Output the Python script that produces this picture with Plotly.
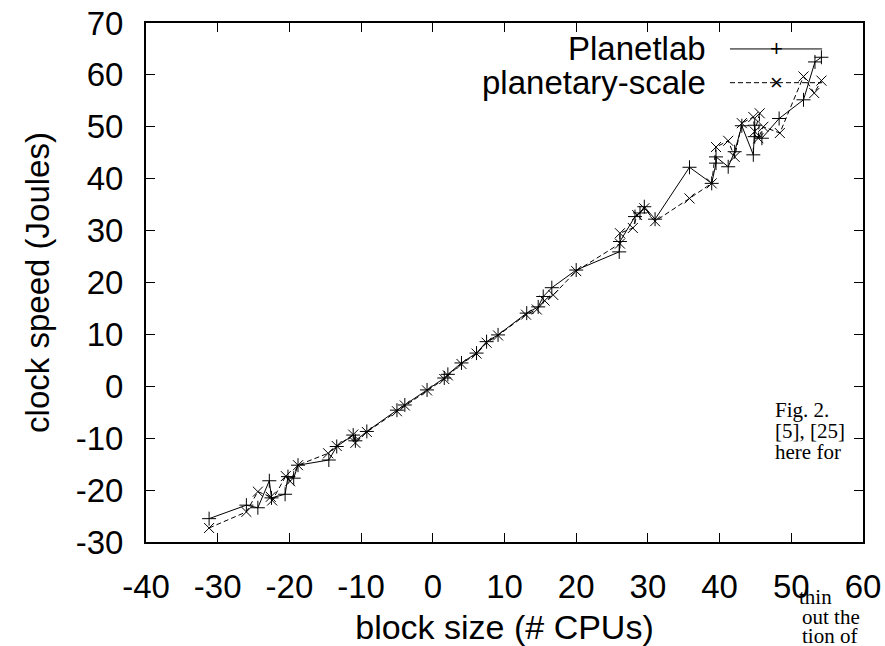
import plotly.graph_objects as go

# block size (# CPUs) vs clock speed (Joules)
planetlab_x = [-31.2, -26.0, -24.4, -22.8, -22.5, -20.6, -20.2, -19.4, -18.8, -14.5, -13.4, -11.1, -10.8, -9.2,
               -5.0, -3.9, -0.8, 1.6, 2.1, 4.0, 6.1, 7.5, 9.1, 13.1, 14.7, 15.4, 16.6, 20.0, 26.0, 26.1,
               28.2, 28.9, 29.5, 31.0, 35.8, 38.9, 39.5, 39.5, 41.2, 42.1, 43.1, 44.7, 44.9, 44.9, 45.9,
               48.3, 51.7, 53.3, 54.2]
planetlab_y = [-25.5, -22.9, -23.4, -18.2, -21.5, -20.8, -17.4, -17.7, -15.2, -14.2, -11.6, -9.4, -10.5, -8.7,
               -4.6, -3.6, -0.7, 1.6, 2.3, 4.5, 6.4, 8.6, 9.9, 14.1, 15.3, 17.3, 19.0, 22.4, 25.9, 27.9,
               32.7, 33.4, 34.6, 32.2, 42.2, 39.1, 43.0, 44.2, 42.3, 45.2, 50.2, 44.6, 50.3, 48.1, 47.8,
               51.6, 55.2, 62.5, 63.4]

planetary_x = [-31.2, -26.0, -24.4, -22.6, -22.4, -20.5, -19.9, -18.8, -14.6, -13.4, -11.1, -10.8, -9.2,
               -5.0, -3.9, -0.8, 1.6, 2.1, 4.0, 6.1, 7.5, 9.1, 13.0, 14.5, 15.6, 16.8, 20.0, 26.1, 26.1,
               27.9, 28.5, 29.5, 31.0, 35.8, 38.9, 39.5, 41.2, 42.1, 43.1, 44.7, 44.9, 45.6, 45.4, 46.1,
               48.4, 51.7, 53.2, 54.2]
planetary_y = [-27.3, -24.2, -20.3, -21.3, -22.0, -17.3, -18.3, -15.2, -12.9, -11.5, -9.3, -10.9, -8.8,
               -4.8, -3.7, -0.8, 1.4, 2.1, 4.3, 6.3, 8.4, 9.8, 13.8, 14.8, 16.5, 17.6, 22.2, 27.5, 29.5,
               30.5, 33.0, 34.3, 31.8, 36.2, 39.1, 46.1, 47.3, 44.2, 50.7, 51.9, 49.1, 52.6, 47.8, 50.0,
               48.8, 59.7, 56.5, 58.9]

x_ticks = [-40, -30, -20, -10, 0, 10, 20, 30, 40, 50, 60]
y_ticks = [-30, -20, -10, 0, 10, 20, 30, 40, 50, 60, 70]

font = "Liberation Sans, Arial, sans-serif"
serif = "Liberation Serif, DejaVu Serif, serif"

fig = go.Figure()
fig.add_trace(go.Scatter(
    x=planetlab_x, y=planetlab_y, mode="lines+markers", name="Planetlab",
    line=dict(color="black", width=1),
    marker=dict(symbol="cross-thin", size=10, line=dict(color="black", width=1)),
))
fig.add_trace(go.Scatter(
    x=planetary_x, y=planetary_y, mode="lines+markers", name="planetary-scale",
    line=dict(color="black", width=1, dash="5px,3px"),
    marker=dict(symbol="x-thin", size=10, line=dict(color="black", width=1)),
))

axis_style = dict(
    showgrid=False, zeroline=False, showline=True, linecolor="black", linewidth=2,
    ticks="inside", ticklen=9, tickwidth=1, tickcolor="black", mirror="allticks",
    tickfont=dict(family=font, size=33, color="black"), ticklabelstandoff=14, automargin=False,
)
# gnuplot prints a plain hyphen for negative numbers
fig.update_xaxes(range=[-40, 60], tickvals=x_ticks, ticktext=[str(v) for v in x_ticks], **axis_style,
                 title=dict(text="block size (# CPUs)", font=dict(family=font, size=34, color="black"), standoff=12))
fig.update_yaxes(range=[-30, 70], tickvals=y_ticks, ticktext=[str(v) for v in y_ticks], **axis_style,
                 title=dict(text="clock speed (Joules)", font=dict(family=font, size=33, color="black"), standoff=16))

# gnuplot-style key: text on the left, sample on the right
key = [("Planetlab", 0.950, "solid", "+"), ("planetary-scale", 0.885, "5px,3px", "×")]
for label, ky, dash, sym in key:
    fig.add_annotation(x=0.784, y=ky, xref="paper", yref="paper", text=label, showarrow=False,
                       xanchor="right", yanchor="middle", font=dict(family=font, size=33, color="black"))
    fig.add_shape(type="line", xref="paper", yref="paper", x0=0.8145, x1=0.943, y0=ky, y1=ky,
                  line=dict(color="black", width=1, dash=dash))
    fig.add_annotation(x=0.879, y=ky, xref="paper", yref="paper", text=sym, showarrow=False,
                       xanchor="center", yanchor="middle", font=dict(family=font, size=22, color="black"))

# bits of the surrounding paper text that overlap the figure
paper_text = [("Fig. 2.", 773, 410), ("[5], [25]", 773, 431), ("here for", 773, 452),
              ("thin", 797, 597), ("out the", 800, 617), ("tion of", 800, 636)]
for txt, px, py in paper_text:
    fig.add_annotation(x=(px - 146) / 717, y=(542 - py) / 519, xref="paper", yref="paper", text=txt,
                       showarrow=False, xanchor="left", yanchor="middle",
                       font=dict(family=serif, size=21, color="black"))

fig.update_layout(
    width=885, height=646, showlegend=False,
    margin=dict(l=146, r=22, t=23, b=104),
    paper_bgcolor="white", plot_bgcolor="white",
)
fig.write_html("out.html", config={"displayModeBar": False},
               post_script="document.body.style.margin='0';")
